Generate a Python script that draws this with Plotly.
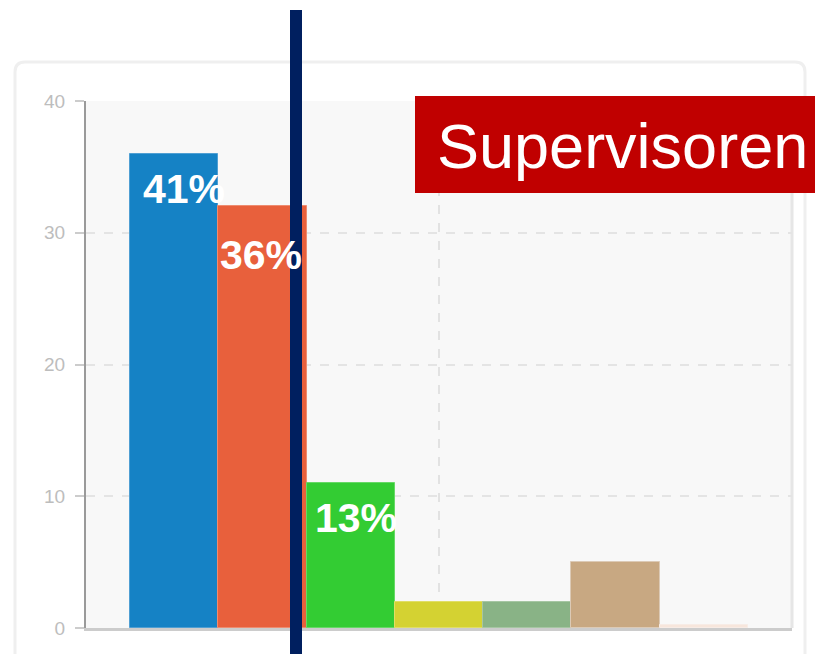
import plotly.graph_objects as go

# ---- data ----
categories = ["A", "B", "C", "D", "E", "F", "G"]
values = [36, 32, 11, 2, 2, 5, 0.2]
bar_colors = ["#1582c5", "#e8603c", "#33cc33", "#d4d232", "#89b386", "#c8a882", "#f7e6dc"]
edge_colors = ["#4f9fd3", "#ee8c70", "#66d966", "#e0de66", "#a6c6a3", "#dccab6", "#f7ece6"]
pct_labels = ["41%", "36%", "13%"]
y_ticks = [0, 10, 20, 30, 40]
title_text = "Supervisoren"

OFF = 8  # page body margin
W, H = 823 - OFF, 654 - OFF
L, R, T, B = 86 - OFF, 31, 101 - OFF, 26
pw, ph = W - L - R, H - T - B


def px_x(px):
    return (px - OFF - L) / pw


def px_y(py):
    return (H - B - (py - OFF)) / ph


xs = list(range(len(categories)))

fig = go.Figure()
fig.add_trace(go.Bar(
    x=xs, y=values, width=1.0,
    marker=dict(color=bar_colors, line=dict(color=edge_colors, width=1)),
    hoverinfo="skip",
))

# card border (rounded)
x0, x1, y0, y1 = px_x(15), px_x(805), px_y(62), px_y(680)
r, ry = 10 / pw, 10 / ph
fig.add_shape(type="path", xref="paper", yref="paper",
              path=(f"M {x0} {y1} L {x0} {y0 - ry} Q {x0} {y0} {x0 + r} {y0} "
                    f"L {x1 - r} {y0} Q {x1} {y0} {x1} {y0 - ry} L {x1} {y1}"),
              line=dict(color="#efefef", width=3), layer="below")

# vertical dashed gridline at the middle of the plot
fig.add_shape(type="line", xref="x", yref="y", x0=3, x1=3, y0=0, y1=40,
              line=dict(color="#e2e2e2", width=2, dash="dash"), layer="below")
# right border of plot
fig.add_shape(type="line", xref="paper", yref="paper", x0=1, x1=1, y0=0, y1=1,
              line=dict(color="#e6e6e6", width=3), layer="below")

# percent labels
label_shift = [-35, -49, -35]
label_xshift = [11, 0, 6]
for i, (lab, sh, xsft) in enumerate(zip(pct_labels, label_shift, label_xshift)):
    fig.add_annotation(x=xs[i] - 0.5, y=values[i], xref="x", yref="y",
                       text=f"<b>{lab}</b>", showarrow=False,
                       xanchor="left", yanchor="middle",
                       xshift=xsft, yshift=sh,
                       font=dict(family="Liberation Sans, Arial", size=41, color="white"))

# navy vertical line
fig.add_shape(type="rect", xref="paper", yref="paper",
              x0=px_x(290), x1=px_x(302), y0=px_y(680), y1=px_y(10),
              fillcolor="#001f5f", line=dict(width=0), layer="above")

# red title box
fig.add_shape(type="rect", xref="paper", yref="paper",
              x0=px_x(415), x1=px_x(840), y0=px_y(193), y1=px_y(96),
              fillcolor="#c00000", line=dict(width=0), layer="above")
fig.add_annotation(xref="paper", yref="paper", x=px_x(435), y=px_y(146),
                   text=title_text, showarrow=False, xanchor="left", yanchor="middle",
                   font=dict(family="Liberation Sans, Arial", size=63, color="white"))

fig.update_layout(
    width=W, height=H,
    margin=dict(l=L, r=R, t=T, b=B),
    paper_bgcolor="white",
    plot_bgcolor="#f8f8f8",
    showlegend=False,
    bargap=0,
    xaxis=dict(range=[-1, 7], showticklabels=False, showgrid=False, zeroline=False,
               showline=True, linecolor="#cccccc", linewidth=3, ticks=""),
    yaxis=dict(range=[0, 40], tickvals=y_ticks, showgrid=True,
               gridcolor="#e4e4e4", griddash="dash", gridwidth=2,
               zeroline=False, showline=True, linecolor="#9a9a9a", linewidth=2,
               ticks="outside", ticklen=9, tickcolor="#cccccc", tickwidth=2,
               ticklabelstandoff=6,
               tickfont=dict(family="Liberation Sans, Arial", size=19, color="#bdbdbd")),
)

fig.write_html("out.html")
